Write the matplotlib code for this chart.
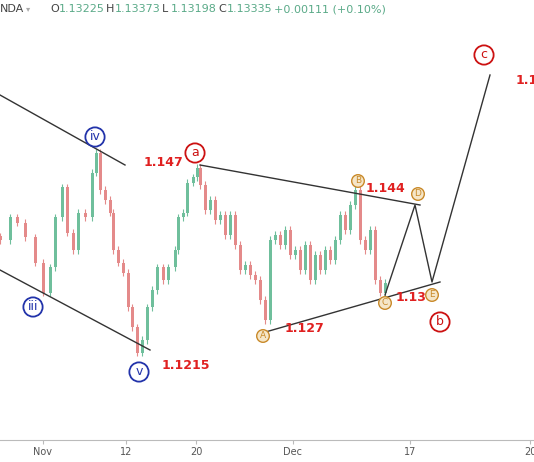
import matplotlib
matplotlib.use("Agg")
import matplotlib.pyplot as plt

xs = [0,10,17,25,35,43,50,55,62,67,73,78,85,92,96,100,105,110,113,118,123,128,132,137,142,147,152,157,163,168,175,178,183,187,193,197,
      200,205,210,215,220,225,230,235,240,245,250,255,260,265,270,275,280,285,290,295,300,305,310,315,320,325,330,335,340,345,350,355,360,365,370,375,380,385]
closes = [1.1369,1.1401,1.1393,1.1373,1.1337,1.1295,1.1331,1.1401,1.1443,1.1379,1.1355,1.1407,1.1401,1.1463,1.1491,1.1439,1.1425,1.1407,1.1355,1.1337,1.1323,1.1275,1.1247,1.1211,1.1229,1.1275,1.1299,1.1331,1.1313,1.1331,1.1355,1.1401,1.1407,1.1449,1.1457,1.1470,
          1.1446,1.1411,1.1425,1.1397,1.1404,1.1376,1.1404,1.1362,1.1327,1.1334,1.1320,1.1313,1.1285,1.1257,1.1369,1.1376,1.1362,1.1383,1.1348,1.1355,1.1327,1.1362,1.1313,1.1348,1.1327,1.1355,1.1341,1.1369,1.1404,1.1383,1.1418,1.1439,1.1369,1.1355,1.1383,1.1313,1.1295,1.1309]
tick_pos = [43,126,196,293,410,530]
tick_labels = ["Nov","12","20","Dec","17","20"]

def P(y):  # pixel row -> price
    return 1.1705 - 0.00014*y

fig = plt.figure(figsize=(5.34,4.62), dpi=100)
ax = fig.add_axes([0, 22/462, 1, 440/462])
ax.set_xlim(0,534); ax.set_ylim(P(440), P(0))
for s in ax.spines.values(): s.set_visible(False)
ax.spines['bottom'].set_visible(True); ax.spines['bottom'].set_color('#bbbbbb')
ax.set_yticks([])
ax.set_xticks(tick_pos); ax.set_xticklabels(tick_labels, color='#555555', fontsize=7)
ax.tick_params(axis='x', length=3, color='#bbbbbb', pad=2)

prev = closes[0]+0.0005
for x,c in zip(xs,closes):
    o = prev
    col = '#6fbf9c' if c>=o else '#e48a8a'
    ax.vlines(x, min(o,c)-0.0005, max(o,c)+0.0005, color=col, lw=0.8)
    ax.bar(x, abs(c-o) or 0.0002, bottom=min(o,c), width=3, color=col)
    prev = c

def line(x0,y0,x1,y1):
    ax.plot([x0,x1],[P(y0),P(y1)], color='#333333', lw=1)
line(0,95,125,165); line(0,270,150,350)
line(200,165,420,205); line(262,333,440,282)
ax.plot([385,415,432,490],[P(295),P(205),P(282),P(75)], color='#333333', lw=1)

def circ(x,y,t,c,fc='white'):
    ax.text(x,P(y),t,color=c,fontsize=9,ha='center',va='center',
            bbox=dict(boxstyle='circle,pad=0.25',fc=fc,ec=c,lw=1.3))
circ(95,137,'iv','#2233aa'); circ(33,307,'iii','#2233aa'); circ(139,372,'v','#2233aa')
circ(195,153,'a','#cc1111'); circ(440,322,'b','#cc1111'); circ(484,55,'c','#cc1111')
for x,y,t in [(263,336,'A'),(358,181,'B'),(385,303,'C'),(418,194,'D'),(432,295,'E')]:
    ax.text(x,P(y),t,color='#c98a2a',fontsize=6.5,ha='center',va='center',
            bbox=dict(boxstyle='circle,pad=0.2',fc='#f5e6c8',ec='#c98a2a',lw=1))
for x,y,t in [(163,163,'1.147'),(385,189,'1.144'),(411,298,'1.13'),(304,329,'1.127'),(186,366,'1.1215'),(527,80,'1.1')]:
    ax.text(x,P(y),t,color='#e02020',fontsize=9,fontweight='bold',ha='center',va='center')

fig.text(0,453/462,"NDA",fontsize=8,color='#444444',va='center')
fig.text(26/534,453/462,"▾",fontsize=6,color='#aaaaaa',va='center')
x0=50
for lab,val in [("O","1.13225"),("H","1.13373"),("L","1.13198"),("C","1.13335")]:
    fig.text(x0/534,453/462,lab,fontsize=8,color='#444444',va='center')
    fig.text((x0+9)/534,453/462,val,fontsize=8,color='#5aaa88',va='center')
    x0+=56
fig.text(x0/534,453/462,"+0.00111 (+0.10%)",fontsize=8,color='#5aaa88',va='center')
fig.savefig("out.png", dpi=100)
